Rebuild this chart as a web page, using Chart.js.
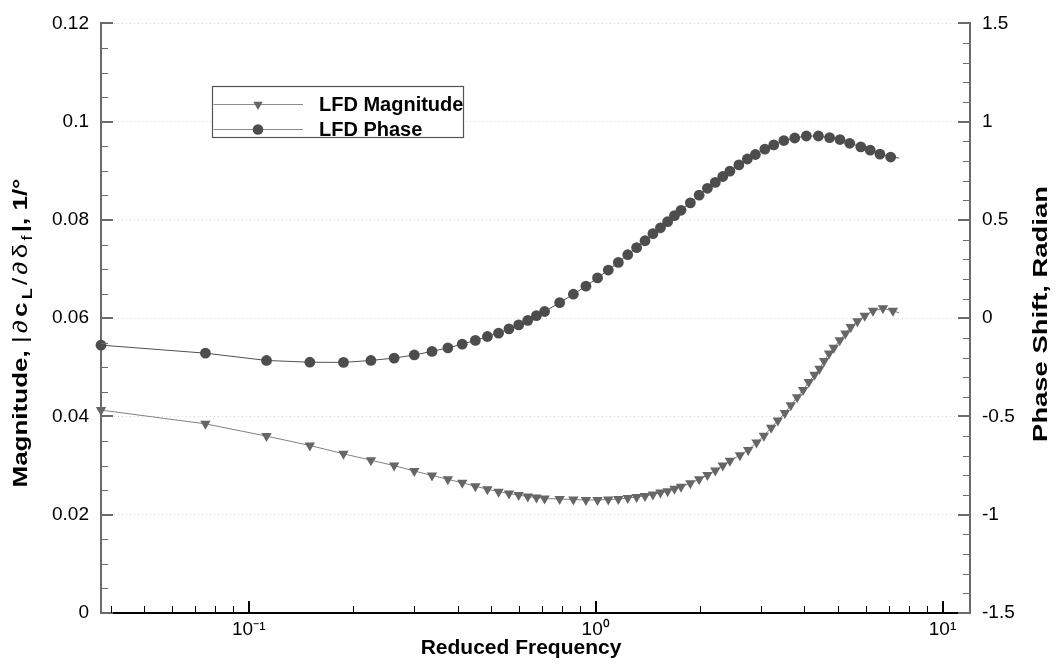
<!DOCTYPE html>
<html>
<head>
<meta charset="utf-8">
<script src="https://cdn.jsdelivr.net/npm/chart.js@4.4.1/dist/chart.umd.min.js"></script>
<style>
  html, body { margin: 0; padding: 0; background: #fff; }
  #wrap { width: 1059px; height: 664px; }
</style>
</head>
<body>
<div id="wrap"><canvas id="myChart"></canvas></div>
<script>
// reduced frequency at each plotted symbol (last entry = end of line, no symbol)
var magFreq = [0.0375, 0.075, 0.1125, 0.15, 0.1875, 0.225, 0.2625, 0.3, 0.3375, 0.375,
  0.4125, 0.45, 0.4875, 0.525, 0.5625, 0.6, 0.6375, 0.675, 0.7125,
  0.7875, 0.8625, 0.9375, 1.0125, 1.0875, 1.1625, 1.2375, 1.3125, 1.3875, 1.4625,
  1.5375, 1.6125, 1.6875, 1.7625,
  1.875, 1.9875, 2.1, 2.2125, 2.325, 2.4375,
  2.605, 2.753, 2.91, 3.054, 3.206, 3.351, 3.511, 3.652, 3.808, 3.963, 4.116, 4.274,
  4.418, 4.555, 4.708, 4.857, 5.053, 5.248, 5.436, 5.683, 5.965, 6.301, 6.733, 7.194,
  7.5];
var magValues = [0.0413, 0.0385, 0.0360, 0.0341, 0.0324, 0.0311, 0.0300, 0.0289, 0.0280, 0.0272,
  0.0265, 0.0258, 0.0252, 0.0247, 0.0243, 0.0240, 0.0237, 0.0235, 0.0233,
  0.0232, 0.0231, 0.0230, 0.0230, 0.0231, 0.0232, 0.0234, 0.0236, 0.0238, 0.0241,
  0.0245, 0.0248, 0.0253, 0.0257,
  0.0264, 0.0272, 0.0281, 0.0290, 0.0300, 0.0310,
  0.0321, 0.0332, 0.0347, 0.0361, 0.0377, 0.0392, 0.0407, 0.0423, 0.0439, 0.0454, 0.0470, 0.0485,
  0.0497, 0.0513, 0.0528, 0.0540, 0.0555, 0.0569, 0.0582, 0.0594, 0.0605, 0.0615, 0.0620, 0.0615,
  0.0611];

var phaseFreq = [0.0375, 0.075, 0.1125, 0.15, 0.1875, 0.225, 0.2625, 0.3, 0.3375, 0.375,
  0.4125, 0.45, 0.4875, 0.525, 0.5625, 0.6, 0.6375, 0.675, 0.7125,
  0.7875, 0.8625, 0.9375, 1.0125, 1.0875, 1.1625, 1.2375, 1.3125, 1.3875, 1.4625,
  1.5375, 1.6125, 1.6875, 1.7625,
  1.875, 1.9875, 2.1, 2.2125, 2.325, 2.4375,
  2.5875, 2.7375, 2.8875, 3.075, 3.2625, 3.4875, 3.75, 4.05, 4.3875, 4.725,
  5.0625, 5.4, 5.8125, 6.1875, 6.6, 7.0875,
  7.5];
var phaseValues = [-0.137, -0.178, -0.215, -0.224, -0.225, -0.215, -0.203, -0.187, -0.169, -0.151,
  -0.132, -0.113, -0.093, -0.076, -0.054, -0.034, -0.011, 0.013, 0.034,
  0.079, 0.122, 0.163, 0.205, 0.245, 0.284, 0.323, 0.359, 0.394, 0.430,
  0.460, 0.491, 0.522, 0.549,
  0.587, 0.626, 0.661, 0.691, 0.721, 0.748,
  0.780, 0.810, 0.833, 0.860, 0.882, 0.904, 0.917, 0.927, 0.927, 0.919,
  0.909, 0.890, 0.872, 0.855, 0.835, 0.820,
  0.815];

var leftTicks = [0, 0.02, 0.04, 0.06, 0.08, 0.1, 0.12];
var leftTickLabels = ["0", "0.02", "0.04", "0.06", "0.08", "0.1", "0.12"];
var rightTicks = [-1.5, -1, -0.5, 0, 0.5, 1, 1.5];
var rightTickLabels = ["-1.5", "-1", "-0.5", "0", "0.5", "1", "1.5"];
var xTicks = [0.1, 1, 10];
var xTickLabels = ["10\u207B\u00B9", "10\u2070", "10\u00B9"];

var FONT = "'Liberation Sans', Arial, Helvetica, sans-serif";
Chart.defaults.font.family = FONT;

var MAG_LINE = "#808080", MAG_MARK = "#666666";
var PH_LINE = "#505050", PH_MARK = "#4d4d4d";

function toPoints(xs, ys) {
  return xs.map(function (f, i) { return { x: f, y: ys[i] }; });
}

// inward tick marks, axis titles and the boxed legend
var decor = {
  id: "decor",
  afterDraw: function (chart) {
    var ctx = chart.ctx, a = chart.chartArea;
    var sx = chart.scales.x, sy = chart.scales.y, sy1 = chart.scales.y1;
    var i, p, major;
    ctx.save();

    ctx.strokeStyle = "#6b6b6b";
    for (i = 0; i <= 24; i++) {
      p = Math.round(sy.getPixelForValue(i * 0.005));
      major = i % 4 === 0;
      ctx.lineWidth = major ? 2 : 1;
      ctx.beginPath();
      ctx.moveTo(a.left, major ? p : p + 0.5);
      ctx.lineTo(a.left + (major ? 12 : 7), major ? p : p + 0.5);
      ctx.stroke();
    }
    for (i = 0; i <= 30; i++) {
      p = Math.round(sy1.getPixelForValue(-1.5 + i * 0.1));
      major = i % 5 === 0;
      ctx.lineWidth = major ? 2 : 1;
      ctx.beginPath();
      ctx.moveTo(a.right, major ? p : p + 0.5);
      ctx.lineTo(a.right - (major ? 12 : 7), major ? p : p + 0.5);
      ctx.stroke();
    }
    ctx.strokeStyle = "#000";
    for (var e = -2; e <= 1; e++) {
      for (var m = 1; m <= 9; m++) {
        var v = m * Math.pow(10, e);
        if (v < sx.min || v > sx.max) continue;
        p = Math.round(sx.getPixelForValue(v));
        major = m === 1;
        ctx.lineWidth = major ? 2 : 1;
        ctx.beginPath();
        ctx.moveTo(major ? p : p + 0.5, a.bottom);
        ctx.lineTo(major ? p : p + 0.5, a.bottom - (major ? 12 : 7));
        ctx.stroke();
      }
    }

    // axis titles
    ctx.fillStyle = "#000";
    ctx.font = "bold 21px " + FONT;
    ctx.textAlign = "center";
    ctx.textBaseline = "alphabetic";
    ctx.fillText("Reduced Frequency", 521, 654);

    ctx.font = "bold 20px " + FONT;
    ctx.save();
    ctx.translate(1047, 314);
    ctx.rotate(-Math.PI / 2);
    ctx.scale(1.37, 1);
    ctx.fillText("Phase Shift, Radian", 0, 0);
    ctx.restore();

    var segs = [
      { t: "Magnitude, ", b: true },
      { t: "|\u2202", b: false, gap: true },
      { t: "c", b: true, gap: true },
      { t: "L", b: true, sub: true, gap: true },
      { t: "/\u2202\u03B4", b: false, gap: true },
      { t: "f", b: false, sub: true, gap: true },
      { t: "|, 1/\u00B0", b: true }
    ];
    function segFont(s) {
      return (s.b ? "bold " : "") + (s.sub ? "14px " : "20px ") + FONT;
    }
    var GAP = 2.5;
    var total = 0;
    segs.forEach(function (s) {
      ctx.font = segFont(s);
      s.chars = s.gap ? s.t.split("") : [s.t];
      s.ws = s.chars.map(function (c) { return ctx.measureText(c).width + (s.gap ? GAP : 0); });
      s.ws.forEach(function (w) { total += w; });
    });
    ctx.save();
    ctx.translate(27, 333);
    ctx.rotate(-Math.PI / 2);
    ctx.scale(1.3, 1);
    ctx.textAlign = "left";
    var cx = -total / 2;
    segs.forEach(function (s) {
      ctx.font = segFont(s);
      s.chars.forEach(function (c, k) {
        ctx.fillText(c, cx, s.sub ? 5 : 0);
        cx += s.ws[k];
      });
    });
    ctx.restore();

    // legend box
    var bx = 212.5, by = 86.5, bw = 251, bh = 51;
    ctx.fillStyle = "#fff";
    ctx.fillRect(bx, by, bw, bh);
    ctx.strokeStyle = "#555";
    ctx.lineWidth = 1.2;
    ctx.strokeRect(bx, by, bw, bh);

    var rows = [
      { label: "LFD Magnitude", y: 104.5, line: MAG_LINE, mark: MAG_MARK, tri: true },
      { label: "LFD Phase", y: 129.5, line: PH_LINE, mark: PH_MARK, tri: false }
    ];
    rows.forEach(function (r) {
      ctx.strokeStyle = "#8c8c8c";
      ctx.lineWidth = 1;
      ctx.beginPath();
      ctx.moveTo(bx + 1, r.y);
      ctx.lineTo(303, r.y);
      ctx.stroke();
      ctx.fillStyle = r.mark;
      ctx.beginPath();
      if (r.tri) {
        var rad = 5.5;
        ctx.moveTo(258, r.y + rad);
        ctx.lineTo(258 - rad * 0.866, r.y - rad * 0.5);
        ctx.lineTo(258 + rad * 0.866, r.y - rad * 0.5);
        ctx.closePath();
      } else {
        ctx.arc(258, r.y, 5.3, 0, Math.PI * 2);
      }
      ctx.fill();
      ctx.fillStyle = "#000";
      ctx.font = "bold 20px " + FONT;
      ctx.textAlign = "left";
      ctx.fillText(r.label, 319, r.y + 6.5);
    });

    ctx.restore();
  }
};

var ctx = document.getElementById("myChart").getContext("2d");

var myChart = new Chart(ctx, {
  type: "line",
  data: {
    datasets: [
      {
        label: "LFD Magnitude",
        data: toPoints(magFreq, magValues),
        yAxisID: "y",
        borderColor: MAG_LINE,
        borderWidth: 1,
        tension: 0,
        pointStyle: "triangle",
        pointRotation: 180,
        pointRadius: function (c) { return c.dataIndex === magFreq.length - 1 ? 0 : 6; },
        pointBackgroundColor: MAG_MARK,
        pointBorderWidth: 0,
        clip: false
      },
      {
        label: "LFD Phase",
        data: toPoints(phaseFreq, phaseValues),
        yAxisID: "y1",
        borderColor: PH_LINE,
        borderWidth: 1,
        tension: 0,
        pointStyle: "circle",
        pointRadius: function (c) { return c.dataIndex === phaseFreq.length - 1 ? 0 : 5.4; },
        pointBackgroundColor: PH_MARK,
        pointBorderWidth: 0,
        clip: false
      }
    ]
  },
  options: {
    responsive: true,
    maintainAspectRatio: false,
    animation: false,
    events: [],
    layout: { padding: { top: 16, left: 0, right: 0, bottom: 0 } },
    plugins: {
      legend: { display: false },
      tooltip: { enabled: false }
    },
    scales: {
      x: {
        type: "logarithmic",
        position: "bottom",
        min: 0.0375,
        max: 12,
        afterBuildTicks: function (s) { s.ticks = xTicks.map(function (v) { return { value: v }; }); },
        afterFit: function (s) { s.height = 51; },
        ticks: {
          autoSkip: false,
          maxRotation: 0,
          padding: 5,
          color: "#000",
          font: { size: 19 },
          callback: function (v, i) { return xTickLabels[i]; }
        },
        grid: { display: false, drawTicks: false },
        border: { display: true, color: "#000", width: 2 }
      },
      y: {
        position: "left",
        min: 0,
        max: 0.12,
        afterBuildTicks: function (s) { s.ticks = leftTicks.map(function (v) { return { value: v }; }); },
        afterFit: function (s) { s.width = 101; },
        ticks: {
          padding: 12,
          color: "#000",
          font: { size: 19 },
          callback: function (v, i) { return leftTickLabels[i]; }
        },
        grid: { color: "#d4d4d4", lineWidth: 1, drawTicks: false },
        border: { display: true, color: "#6b6b6b", width: 2, dash: [1, 3] }
      },
      y1: {
        position: "right",
        min: -1.5,
        max: 1.5,
        afterBuildTicks: function (s) { s.ticks = rightTicks.map(function (v) { return { value: v }; }); },
        afterFit: function (s) { s.width = 89; },
        ticks: {
          padding: 12,
          color: "#000",
          font: { size: 19 },
          callback: function (v, i) { return rightTickLabels[i]; }
        },
        grid: { drawOnChartArea: false, drawTicks: false },
        border: { display: true, color: "#6b6b6b", width: 2 }
      }
    }
  },
  plugins: [decor]
});
</script>
</body>
</html>
